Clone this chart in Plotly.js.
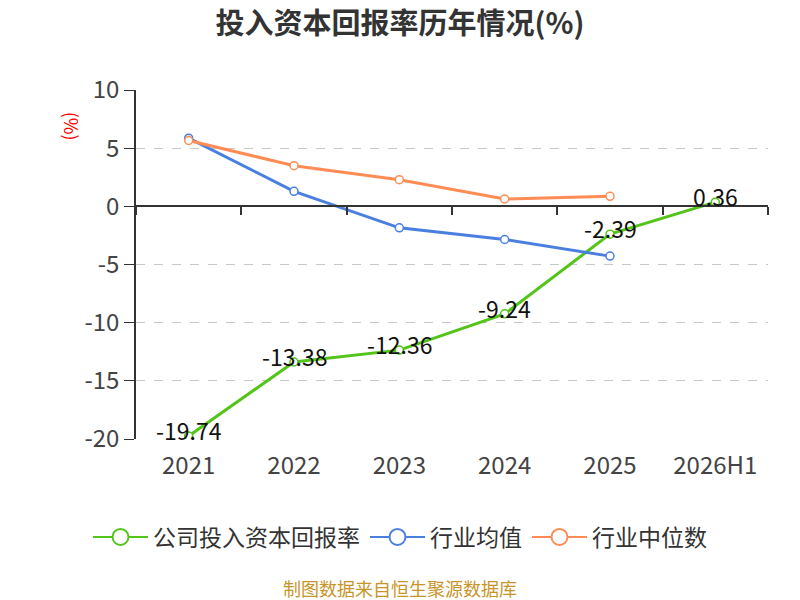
<!DOCTYPE html>
<html>
<head>
<meta charset="utf-8">
<script src="https://cdn.plot.ly/plotly-3.0.1.min.js"></script>
<style>
  html, body { margin: 0; padding: 0; background: #fff; }
  #chart { width: 800px; height: 600px; }
</style>
</head>
<body>
<div id="chart"></div>
<script>
const years = ["2021", "2022", "2023", "2024", "2025", "2026H1"];
const company = [-19.74, -13.38, -12.36, -9.24, -2.39, 0.36];
const industryAvg = [5.86, 1.29, -1.85, -2.85, -4.28];
const industryMedian = [5.66, 3.49, 2.29, 0.63, 0.86];
const yTicks = [-20, -15, -10, -5, 0, 5, 10];
const names = ["公司投入资本回报率", "行业均值", "行业中位数"];

const font = '"Noto Sans CJK SC", "Noto Sans", sans-serif';
const green = "#52c41a";
const blue = "#4a7fe0";
const orange = "#ff8c55";

function series(name, x, y, color) {
  return {
    name: name,
    x: x,
    y: y,
    type: "scatter",
    mode: "lines+markers",
    line: { color: color, width: 3 },
    marker: { symbol: "circle", size: 8, color: "#fff", line: { color: color, width: 1.5 } },
    showlegend: false,
    hoverinfo: "x+y",
  };
}

// legend-only entries: bigger symbols than the plotted markers
function legendItem(name, color) {
  return {
    name: name,
    x: [null],
    y: [null],
    type: "scatter",
    mode: "lines+markers",
    line: { color: color, width: 2 },
    marker: { symbol: "circle", size: 21, color: "#fff", line: { color: color, width: 2 } },
    hoverinfo: "skip",
  };
}

var data = [
  series(names[0], years, company, green),
  series(names[1], years.slice(0, industryAvg.length), industryAvg, blue),
  series(names[2], years.slice(0, industryMedian.length), industryMedian, orange),
  legendItem(names[0], green),
  legendItem(names[1], blue),
  legendItem(names[2], orange),
  // hidden trace so the zero-line axis gets the same categories
  { x: years, y: years.map(() => null), xaxis: "x2", type: "scatter", mode: "lines", showlegend: false, hoverinfo: "skip" },
];

// category index as x, "2021" would otherwise be read as a number
var labels = company.map((v, i) => ({
  x: i,
  y: v,
  text: v.toFixed(2),
  showarrow: false,
  yshift: 6,
  font: { family: font, size: 23, color: "#111" },
}));

var layout = {
  width: 800,
  height: 600,
  margin: { t: 90, b: 161, l: 136, r: 32 },
  paper_bgcolor: "#fff",
  plot_bgcolor: "#fff",
  font: { family: font, color: "#333" },
  title: {
    text: "<b>投入资本回报率历年情况(%)</b>",
    x: 0.5,
    xanchor: "center",
    y: 0.96,
    yanchor: "middle",
    font: { family: font, size: 29, color: "#333" },
  },
  xaxis: {
    type: "category",
    range: [-0.5, 5.5],
    showline: false,
    showgrid: false,
    zeroline: false,
    ticks: "",
    tickfont: { size: 24, color: "#444" },
    ticklabelstandoff: 10,
    fixedrange: true,
  },
  xaxis2: {
    type: "category",
    overlaying: "x",
    anchor: "free",
    position: 2 / 3,
    side: "bottom",
    range: [-0.5, 5.5],
    showline: true,
    linecolor: "#333",
    linewidth: 2,
    ticks: "outside",
    tickson: "boundaries",
    ticklen: 8,
    tickwidth: 2,
    tickcolor: "#333",
    showticklabels: false,
    showgrid: false,
    zeroline: false,
  },
  yaxis: {
    range: [-20, 10],
    tickvals: yTicks,
    ticktext: yTicks.map(String),
    showline: true,
    linecolor: "#333",
    linewidth: 1.5,
    ticks: "outside",
    ticklen: 10,
    tickcolor: "#333",
    tickfont: { size: 24, color: "#444" },
    showgrid: true,
    gridcolor: "#c8c8c8",
    griddash: "dash",
    gridwidth: 1.3,
    zeroline: false,
    fixedrange: true,
  },
  showlegend: true,
  legend: {
    orientation: "h",
    xref: "container",
    yref: "container",
    x: 0.5,
    xanchor: "center",
    y: 0.105,
    yanchor: "middle",
    itemwidth: 55,
    font: { family: font, size: 23, color: "#333" },
  },
  annotations: labels.concat([
    {
      text: "(%)",
      xref: "paper",
      yref: "paper",
      x: -0.101,
      y: 0.897,
      xanchor: "center",
      yanchor: "middle",
      showarrow: false,
      textangle: 90,
      font: { family: font, size: 18, color: "#f00" },
    },
    {
      text: "制图数据来自恒生聚源数据库",
      xref: "paper",
      yref: "paper",
      x: 0.418,
      y: -0.427,
      xanchor: "center",
      yanchor: "middle",
      showarrow: false,
      font: { family: font, size: 18, color: "#c8952a" },
    },
  ]),
};

var config = { responsive: false, displayModeBar: false };

Plotly.newPlot("chart", data, layout, config);
</script>
</body>
</html>
